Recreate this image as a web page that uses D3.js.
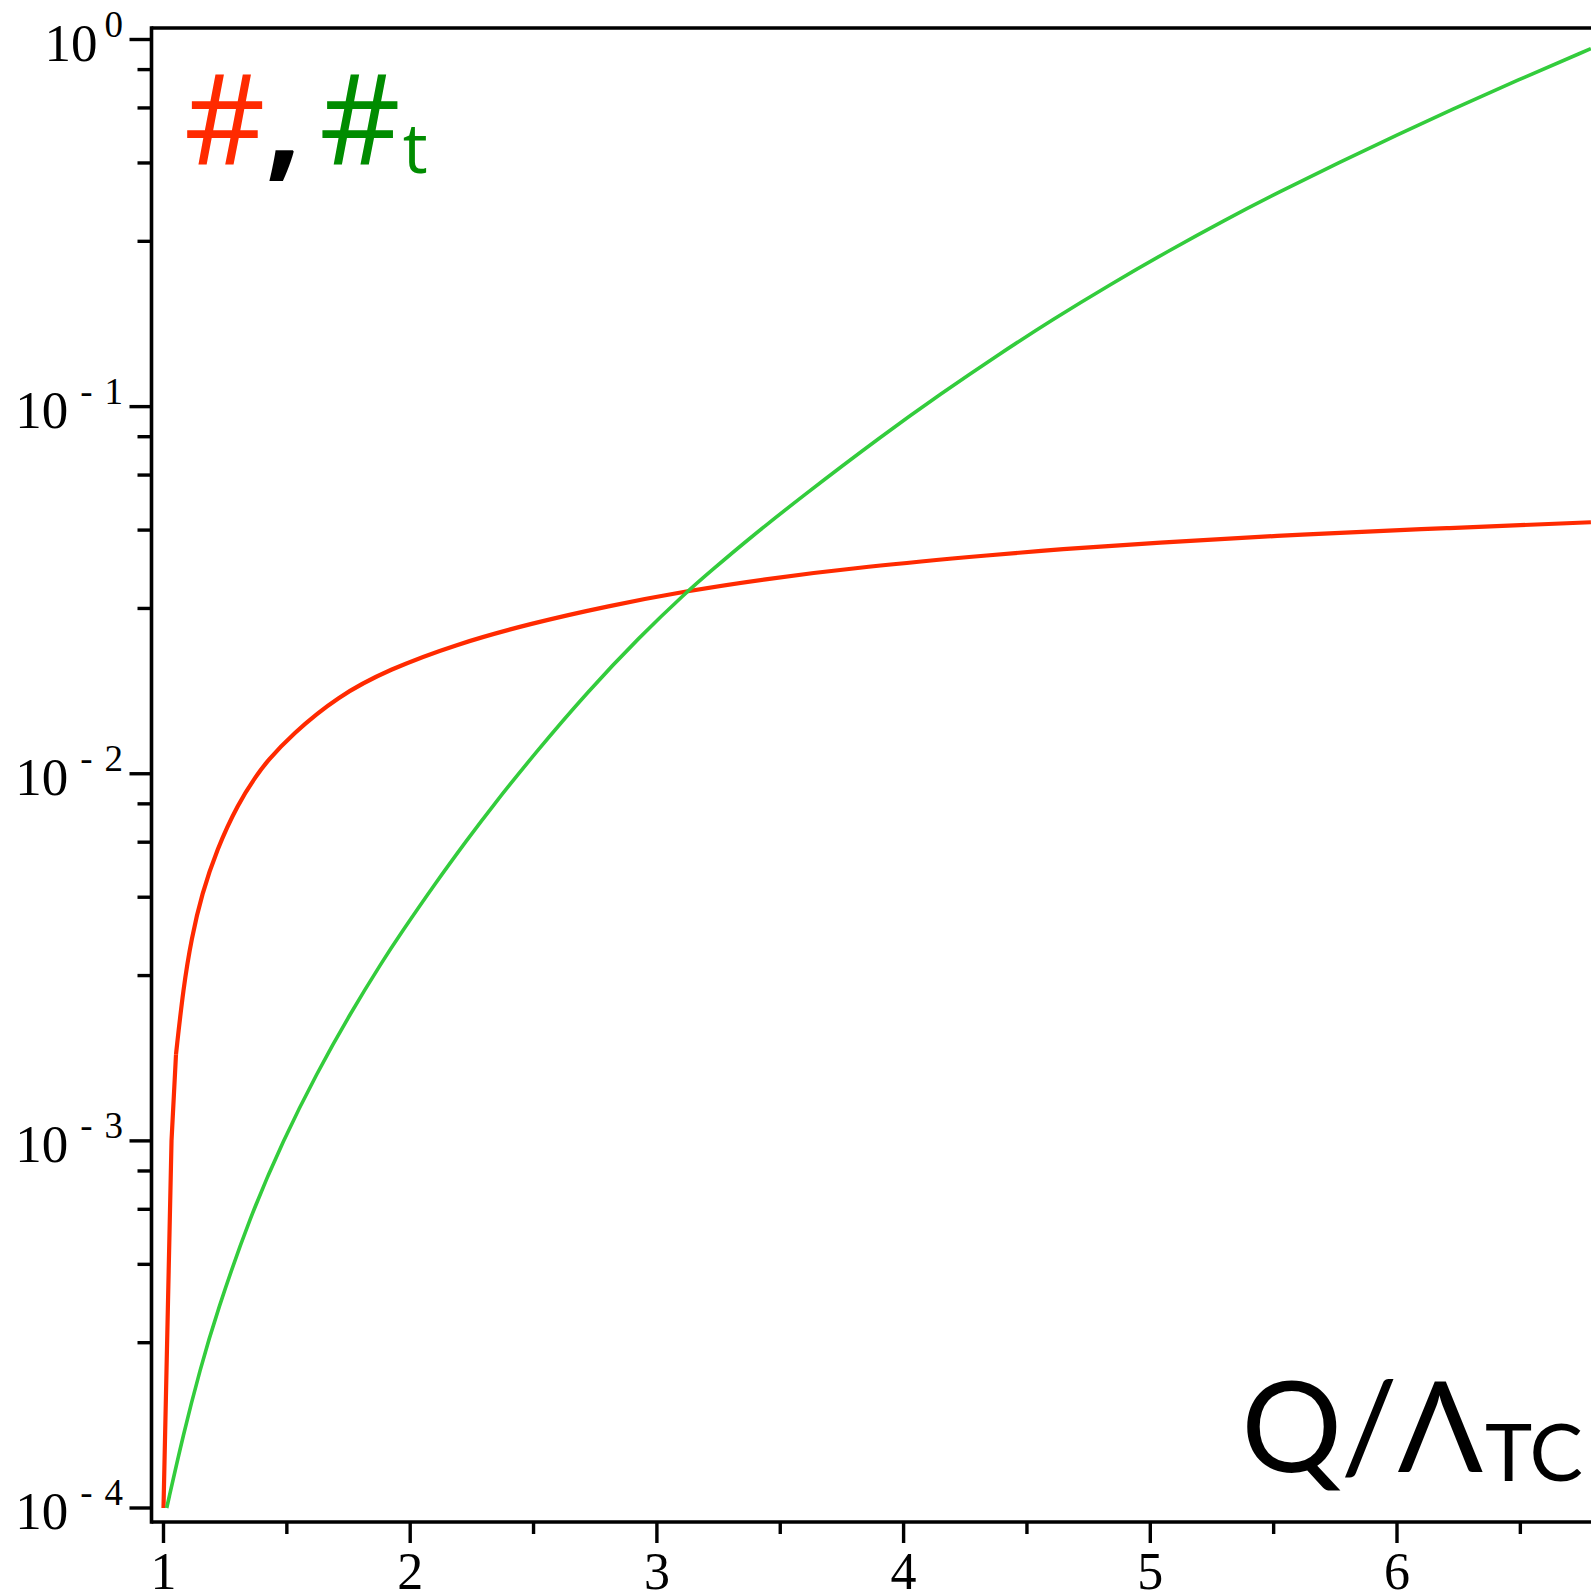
<!DOCTYPE html>
<html>
<head>
<meta charset="utf-8">
<script src="https://cdn.jsdelivr.net/npm/d3@7"></script>
<style>
html,body{margin:0;padding:0;background:#fff;overflow:hidden;}
svg{display:block;}
</style>
</head>
<body>
<svg id="chart" width="1591" height="1592"></svg>
<script>
// ---- data ----
const xTicks = [1, 2, 3, 4, 5, 6, 7];
const xMinorTicks = [1.5, 2.5, 3.5, 4.5, 5.5, 6.5];
const yDecades = [0, -1, -2, -3, -4];
const yMinorMultipliers = [2.82, 4.61, 6.51, 8.28];

// red curve  (#) : x and log10(value)
const redX   = [1.0, 1.0325, 1.0507, 1.080, 1.114, 1.155, 1.216, 1.303, 1.378, 1.417, 1.520, 1.7065, 1.913, 2.182, 2.492, 2.802, 3.122, 3.422, 3.835, 4.391, 4.623, 5.0, 5.625, 6.2, 6.786];
const redLog = [-4.0, -3.0, -2.764, -2.585, -2.446, -2.329, -2.206, -2.080, -2.004, -1.968, -1.893, -1.789, -1.716, -1.648, -1.590, -1.543, -1.502, -1.471, -1.436, -1.402, -1.389, -1.372, -1.347, -1.331, -1.315];

// green curve (#_t) : x and log10(value)
const greenX   = [1.013, 1.080, 1.148, 1.216, 1.351, 1.486, 1.621, 1.756, 1.891, 1.959, 2.1, 2.234, 2.327, 2.513, 2.720, 2.927, 3.122, 3.215, 3.371, 3.580, 3.917, 4.153, 4.378, 4.603, 4.838, 5.073, 5.298, 5.523, 5.769, 5.993, 6.218, 6.484, 6.786];
const greenLog = [-4.0, -3.800, -3.623, -3.467, -3.206, -2.997, -2.816, -2.654, -2.507, -2.438, -2.300, -2.177, -2.094, -1.938, -1.776, -1.629, -1.504, -1.450, -1.361, -1.249, -1.077, -0.964, -0.861, -0.763, -0.667, -0.576, -0.493, -0.415, -0.334, -0.262, -0.192, -0.112, -0.025];

const redSeries = redX.map((x, i) => ({x, y: Math.pow(10, redLog[i])}));
const greenSeries = greenX.map((x, i) => ({x, y: Math.pow(10, greenLog[i])}));

// ---- layout ----
const svg = d3.select("#chart");
const xs = d3.scaleLinear().domain([1, 7]).range([163.5, 163.5 + 6 * 246.7]);
const ys = d3.scaleLog().domain([1e-4, 1]).range([1508, 39.5]);

const frameL = 151.5, frameT = 28, frameB = 1522, frameR = 1700;
const black = "#000";

// curves
svg.append("path").datum(redSeries.slice(0, 3))
  .attr("d", d3.line().x(d => xs(d.x)).y(d => ys(d.y)).curve(d3.curveLinear))
  .attr("fill", "none").attr("stroke", "#ff2a00").attr("stroke-width", 4.2)
  .attr("stroke-linejoin", "round");
svg.append("path").datum(redSeries.slice(2))
  .attr("d", d3.line().x(d => xs(d.x)).y(d => ys(d.y)).curve(d3.curveBasis))
  .attr("fill", "none").attr("stroke", "#ff2a00").attr("stroke-width", 4.2)
  .attr("stroke-linejoin", "round");
svg.append("path").datum(greenSeries)
  .attr("d", d3.line().x(d => xs(d.x)).y(d => ys(d.y)).curve(d3.curveBasis))
  .attr("fill", "none").attr("stroke", "#33cc3c").attr("stroke-width", 3.6)
  .attr("stroke-linejoin", "round");

// frame
const frame = svg.append("g").attr("stroke", black).attr("stroke-width", 3.6).attr("fill", "none");
frame.append("line").attr("x1", frameL).attr("x2", frameR).attr("y1", frameT).attr("y2", frameT);
frame.append("line").attr("x1", frameL).attr("x2", frameR).attr("y1", frameB).attr("y2", frameB);
frame.append("line").attr("x1", frameL).attr("x2", frameL).attr("y1", frameT - 1.8).attr("y2", frameB + 1.8);

// x axis ticks
const gx = svg.append("g").attr("stroke", black).attr("stroke-width", 3.4);
xTicks.forEach(t => {
  gx.append("line").attr("x1", xs(t)).attr("x2", xs(t)).attr("y1", frameB).attr("y2", frameB + 21);
});
xMinorTicks.forEach(t => {
  gx.append("line").attr("x1", xs(t)).attr("x2", xs(t)).attr("y1", frameB).attr("y2", frameB + 12);
});
const serif = "'Liberation Serif', 'DejaVu Serif', serif";
svg.append("g").selectAll("text").data(xTicks).join("text")
  .attr("x", d => xs(d)).attr("y", 1589)
  .attr("text-anchor", "middle")
  .attr("font-family", serif).attr("font-size", 52)
  .text(d => d);

// y axis ticks
const gy = svg.append("g").attr("stroke", black).attr("stroke-width", 3.4);
yDecades.forEach(k => {
  const v = Math.pow(10, k);
  gy.append("line").attr("x1", frameL - 22).attr("x2", frameL).attr("y1", ys(v)).attr("y2", ys(v));
  if (k < 0) {
    yMinorMultipliers.forEach(m => {
      const mv = m * Math.pow(10, k);
      gy.append("line").attr("x1", frameL - 14).attr("x2", frameL).attr("y1", ys(mv)).attr("y2", ys(mv));
    });
  }
});
yDecades.forEach(k => {
  const ty = ys(Math.pow(10, k));
  const t = svg.append("text")
    .attr("x", 123).attr("y", ty + 21)
    .attr("text-anchor", "end")
    .attr("font-family", serif).attr("font-size", 53);
  t.append("tspan").text("10");
  if (k === 0) {
    t.append("tspan").attr("dx", 7).attr("dy", -24).attr("font-size", 37).text("0");
  } else {
    t.append("tspan").attr("dx", 12).attr("dy", -24).attr("font-size", 37).text("-");
    t.append("tspan").attr("dx", 12).attr("font-size", 37).text(String(-k));
  }
});

// legend text
const legFont = "'Open Sans', Lato, 'DejaVu Sans', sans-serif";
const leg = svg.append("text").attr("x", 184).attr("y", 165)
  .attr("font-family", legFont).attr("font-size", 126);
leg.append("tspan").attr("fill", "#ff2a00").text("#");
leg.append("tspan").attr("fill", black).attr("font-weight", 700).text(",");
leg.append("tspan").attr("fill", "#008c00").attr("dx", 18).text("#");
leg.append("tspan").attr("fill", "#008c00").attr("font-size", 70).attr("dx", 2).attr("dy", 8).text("t");

// axis label
const sans = "Lato, 'Open Sans', 'DejaVu Sans', sans-serif";
const xl = svg.append("text").attr("x", 1583).attr("y", 1472)
  .attr("text-anchor", "end")
  .attr("font-family", sans).attr("font-size", 126).attr("fill", black);
xl.append("tspan").text("Q/Λ");
xl.append("tspan").attr("font-size", 80).attr("dy", 9).attr("dx", 2).text("TC");
</script>
</body>
</html>
